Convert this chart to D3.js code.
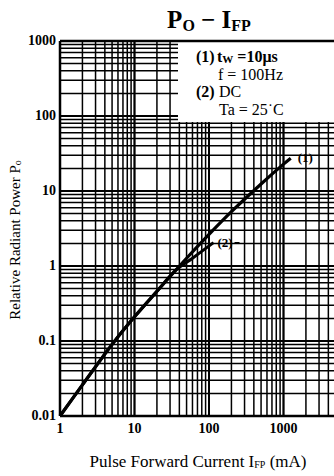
<!DOCTYPE html>
<html>
<head>
<meta charset="utf-8">
<script src="https://cdn.jsdelivr.net/npm/d3@7"></script>
<style>
  body { margin: 0; background: #fff; }
  svg { display: block; font-family: "Liberation Serif", "DejaVu Serif", serif; }
</style>
</head>
<body>
<div id="chart"></div>
<script>
// curve (1): tw = 10us, f = 100Hz
var pulseCurrent = [1, 2, 5, 10, 20, 50, 100, 200, 500, 1000, 1250];
var pulsePower   = [0.01, 0.026, 0.09, 0.21, 0.46, 1.27, 2.64, 5.3, 12.4, 22.8, 27.4];
// curve (2): DC
var dcCurrent = [1, 2, 5, 10, 20, 35, 60, 115];
var dcPower   = [0.01, 0.026, 0.09, 0.21, 0.46, 0.86, 1.27, 2.05];

var xTicks = [1, 10, 100, 1000];
var xTickLabels = ["1", "10", "100", "1000"];
var yTicks = [1000, 100, 10, 1, 0.1, 0.01];
var yTickLabels = ["1000", "100", "10", "1", "0.1", "0.01"];

var W = 334, H = 476;
var plotLeft = 60, plotTop = 41, plotBottom = 416;

var x = d3.scaleLog().domain([1, 10000]).range([plotLeft, plotLeft + 4 * 74.5]);
var y = d3.scaleLog().domain([0.01, 1000]).range([plotBottom, plotTop]);

var svg = d3.select("#chart").append("svg")
    .attr("width", W)
    .attr("height", H);

// grid: 1..9 in every decade
var xGrid = [], yGrid = [];
for (var d = 0; d < 4; d++) {
  for (var k = 1; k < 10; k++) xGrid.push(k * Math.pow(10, d));
}
for (var d = -2; d < 3; d++) {
  for (var k = 1; k < 10; k++) yGrid.push(+(k * Math.pow(10, d)).toPrecision(3));
}
yGrid.push(1000);

var grid = svg.append("g").attr("stroke", "#000").attr("stroke-width", 1.5);
grid.selectAll(".vx").data(xGrid).enter().append("line")
    .attr("x1", function(v){ return x(v); })
    .attr("x2", function(v){ return x(v); })
    .attr("y1", plotTop).attr("y2", plotBottom);
grid.selectAll(".hy").data(yGrid).enter().append("line")
    .attr("x1", plotLeft).attr("x2", x(10000))
    .attr("y1", function(v){ return y(v); })
    .attr("y2", function(v){ return y(v); });

// decade lines a bit heavier
grid.selectAll(".dy").data(yTicks).enter().append("line")
    .attr("stroke-width", 2.2)
    .attr("x1", plotLeft).attr("x2", x(10000))
    .attr("y1", function(v){ return y(v); })
    .attr("y2", function(v){ return y(v); });
grid.selectAll(".dx").data(xTicks).enter().append("line")
    .attr("stroke-width", 2)
    .attr("x1", function(v){ return x(v); })
    .attr("x2", function(v){ return x(v); })
    .attr("y1", plotTop).attr("y2", plotBottom);

// legend box blanks out the grid
svg.append("rect")
    .attr("x", 178).attr("y", plotTop)
    .attr("width", W - 178).attr("height", 122 - plotTop)
    .attr("fill", "#fff");

// frame
svg.append("line").attr("x1", plotLeft).attr("x2", W).attr("y1", plotTop).attr("y2", plotTop)
    .attr("stroke", "#000").attr("stroke-width", 2.5);
svg.append("line").attr("x1", plotLeft).attr("x2", W).attr("y1", plotBottom).attr("y2", plotBottom)
    .attr("stroke", "#000").attr("stroke-width", 2.5);
svg.append("line").attr("x1", plotLeft).attr("x2", plotLeft).attr("y1", plotTop).attr("y2", plotBottom)
    .attr("stroke", "#000").attr("stroke-width", 2.5);

// curves
var line = d3.line()
    .x(function(p){ return x(p[0]); })
    .y(function(p){ return y(p[1]); })
    .curve(d3.curveCatmullRom);

svg.append("path")
    .datum(d3.zip(pulseCurrent, pulsePower))
    .attr("d", line)
    .attr("fill", "none").attr("stroke", "#000").attr("stroke-width", 3.2);
svg.append("path")
    .datum(d3.zip(dcCurrent, dcPower))
    .attr("d", line)
    .attr("fill", "none").attr("stroke", "#000").attr("stroke-width", 3);

// curve labels
var p1 = [pulseCurrent[pulseCurrent.length-1], pulsePower[pulsePower.length-1]];
svg.append("text")
    .attr("x", x(p1[0]) + 7).attr("y", y(p1[1]) + 4)
    .attr("font-size", 13).attr("font-weight", "bold")
    .text("(1)");

var p2 = [dcCurrent[dcCurrent.length-1], dcPower[dcPower.length-1]];
svg.append("text")
    .attr("x", x(p2[0]) + 4).attr("y", y(p2[1]) + 4)
    .attr("font-size", 13).attr("font-weight", "bold")
    .text("(2)");
svg.append("line")
    .attr("x1", x(p2[0]) + 21).attr("y1", y(p2[1]))
    .attr("x2", x(p2[0]) + 26).attr("y2", y(p2[1]))
    .attr("stroke", "#000").attr("stroke-width", 1.2);

// tick labels
svg.selectAll(".xt").data(xTicks).enter().append("text")
    .attr("x", function(v){ return x(v); })
    .attr("y", 433)
    .attr("text-anchor", "middle")
    .attr("font-size", 14).attr("font-weight", "bold")
    .text(function(v, i){ return xTickLabels[i]; });
svg.selectAll(".yt").data(yTicks).enter().append("text")
    .attr("x", 56)
    .attr("y", function(v){ return y(v) + 4; })
    .attr("text-anchor", "end")
    .attr("font-size", 14).attr("font-weight", "bold")
    .text(function(v, i){ return yTickLabels[i]; });

// title
var title = svg.append("text")
    .attr("x", 209).attr("y", 28)
    .attr("text-anchor", "middle")
    .attr("font-size", 25).attr("font-weight", "bold");
title.append("tspan").text("P");
title.append("tspan").attr("font-size", 16).attr("dy", 3).text("O");
title.append("tspan").attr("dy", -3).text(" \u2212 I");
title.append("tspan").attr("font-size", 16).attr("dy", 3).text("FP");

// legend text
var leg = svg.append("g").attr("font-size", 16);
leg.append("text").attr("x", 196).attr("y", 62).attr("font-weight", "bold").text("(1)");
var t1 = leg.append("text").attr("x", 217).attr("y", 62).attr("font-weight", "bold");
t1.append("tspan").text("t");
t1.append("tspan").attr("font-size", 11).attr("dy", 1).text("W");
t1.append("tspan").attr("dy", -1).text(" =10\u03bcs");
leg.append("text").attr("x", 218).attr("y", 80).text("f = 100Hz");
leg.append("text").attr("x", 196).attr("y", 97).attr("font-weight", "bold").text("(2)");
leg.append("text").attr("x", 219).attr("y", 97).text("DC");
leg.append("text").attr("x", 219).attr("y", 115).text("Ta = 25\u02d9C");

// axis titles
var xl = svg.append("text")
    .attr("x", 198).attr("y", 467)
    .attr("text-anchor", "middle")
    .attr("font-size", 17);
xl.append("tspan").text("Pulse Forward Current I");
xl.append("tspan").attr("font-size", 10).attr("dy", 1).text("FP");
xl.append("tspan").attr("dy", -1).text(" (mA)");

var yl = svg.append("text")
    .attr("transform", "translate(20,240) rotate(-90)")
    .attr("text-anchor", "middle")
    .attr("font-size", 15);
yl.append("tspan").text("Relative Radiant Power P");
yl.append("tspan").attr("font-size", 10).attr("dy", 1).text("o");
</script>
</body>
</html>
